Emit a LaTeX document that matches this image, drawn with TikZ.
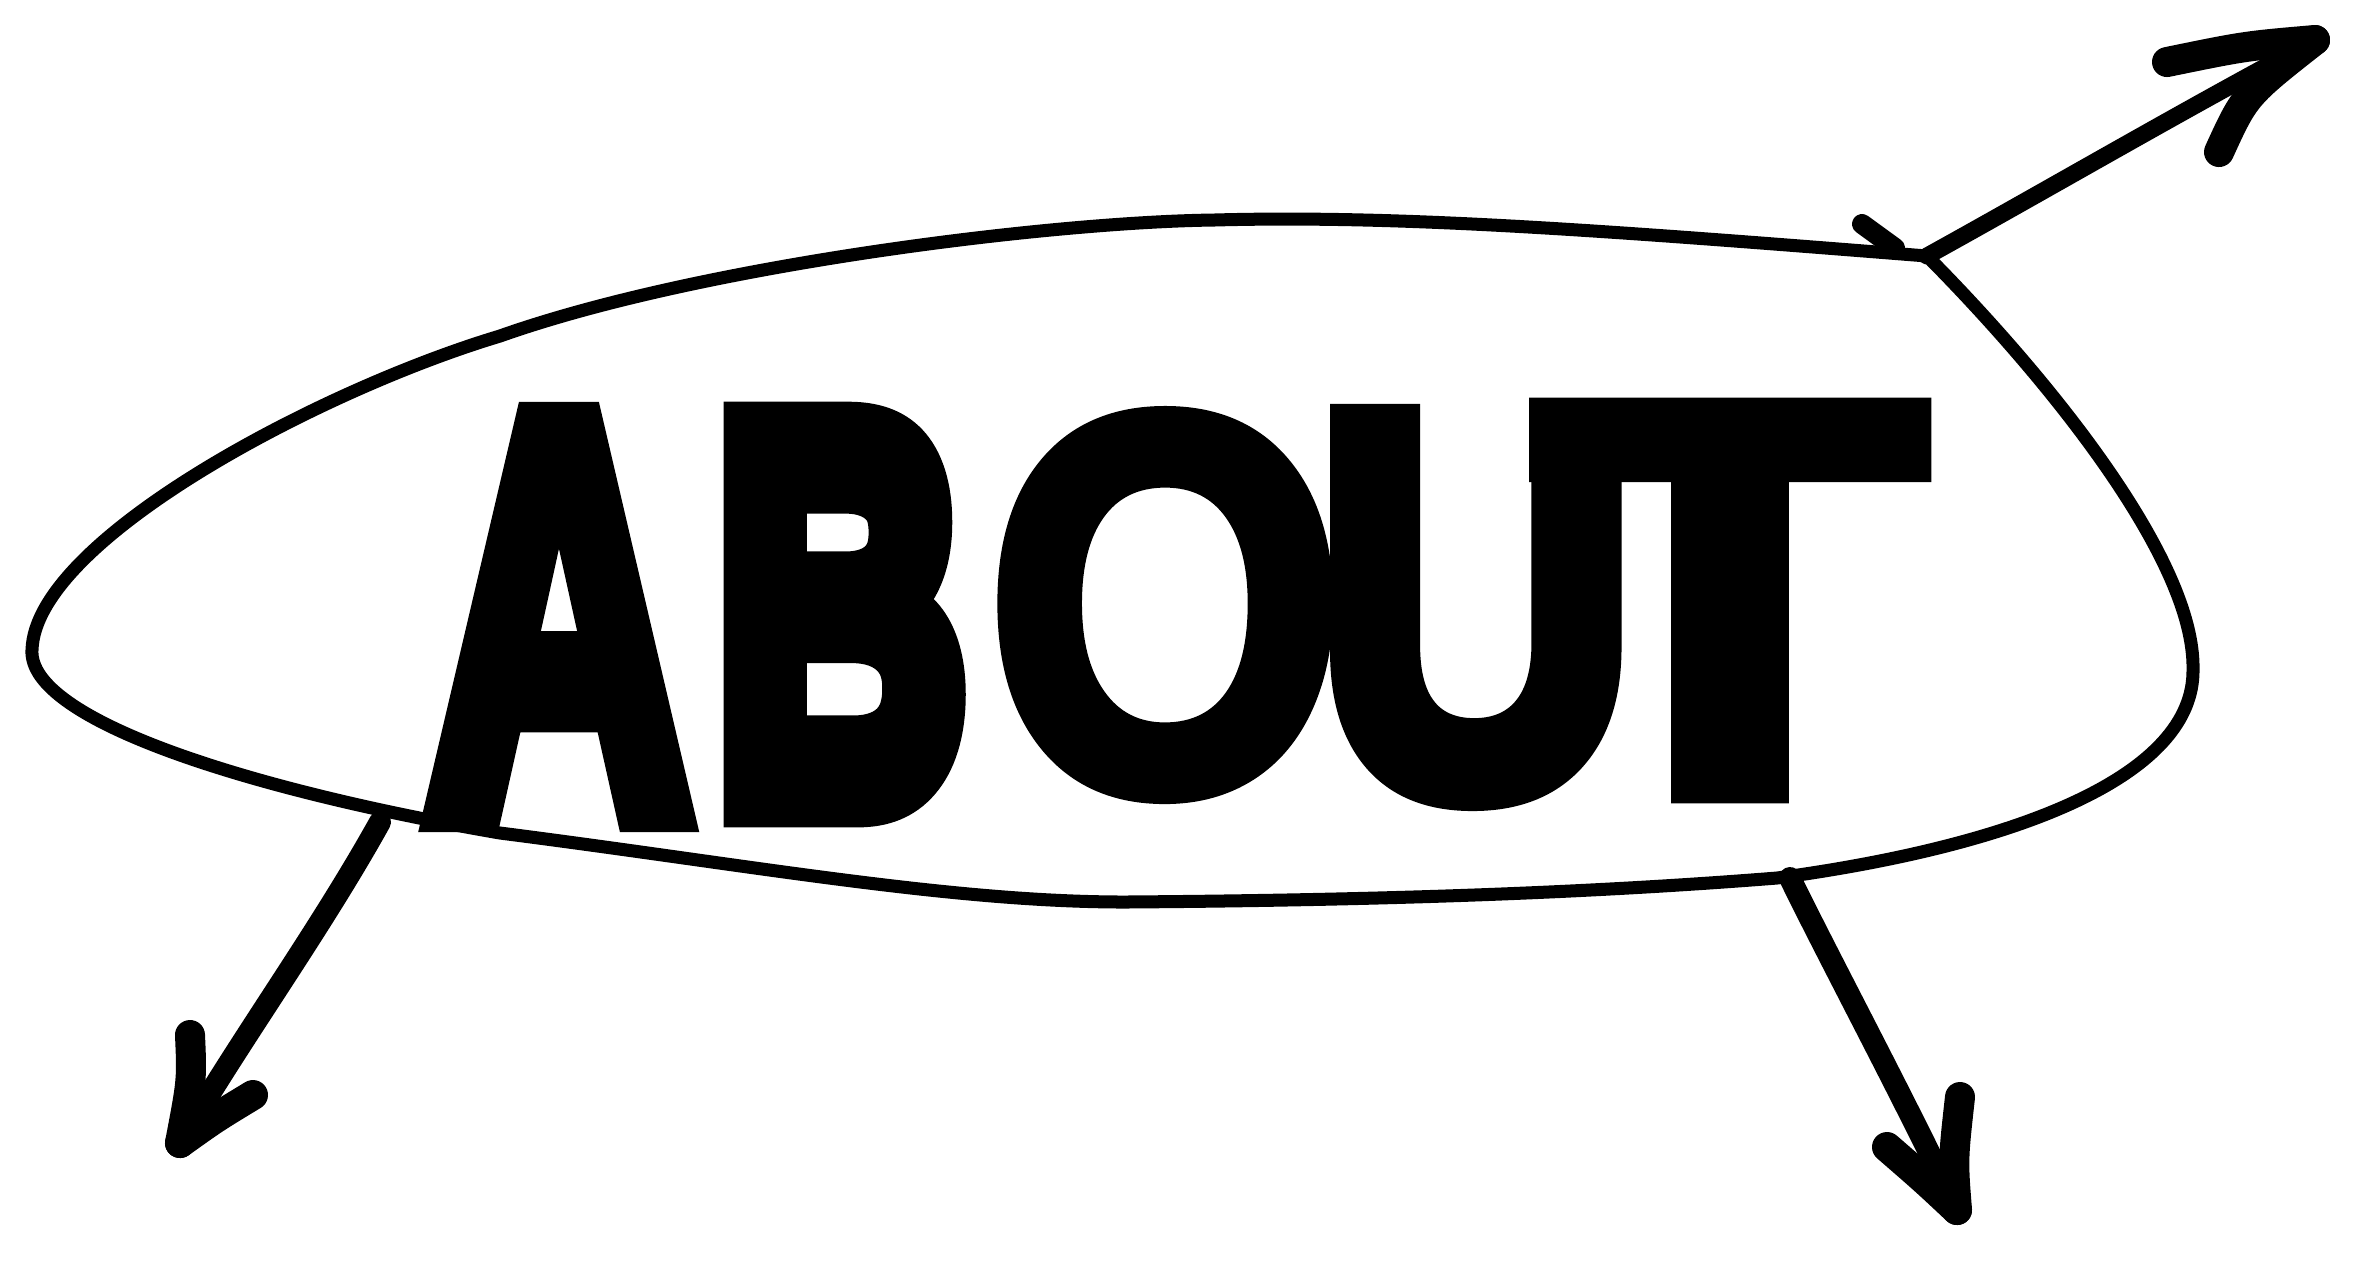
\documentclass[tikz,border=0pt]{standalone}
\usepackage{fontspec}
\usepackage{graphicx}
\newfontfamily\heavyA[FakeBold=7]{Liberation Sans Bold}
\newfontfamily\heavyB[FakeBold=10]{Liberation Sans Bold}
\newfontfamily\heavyO[FakeBold=4]{Liberation Sans Bold}
\newfontfamily\heavyU[FakeBold=6]{Liberation Sans Bold}
\newfontfamily\heavyT[FakeBold=4]{Liberation Sans Bold}
\newcommand{\Glyph}[4]{\resizebox{#1cm}{#2cm}{#3#4}}
\begin{document}
\begin{tikzpicture}[x=0.01cm,y=-0.01cm,
  outline/.style={line width=0.13cm,line join=round,line cap=round},
  shaft/.style={line width=0.22cm,line cap=round},
  thinshaft/.style={line width=0.17cm,line cap=round},
  barb/.style={line width=0.3cm,line cap=round},
  letter/.style={inner sep=0pt,outer sep=0pt}]
\useasboundingbox (0,0) rectangle (2354,1262);
\fill[white] (0,0) rectangle (2354,1262);
% the oval
\coordinate (J) at (1927,256);
\draw[outline] (J) .. controls (1600,230) and (1400,215) .. (1214,220)
  .. controls (1050,222) and (700,265) .. (500,336)
  .. controls (320,390) and (35,540) .. (32,650)
  .. controls (28,720) and (250,790) .. (500,833)
  .. controls (750,865) and (950,902) .. (1125,902)
  .. controls (1400,900) and (1600,892) .. (1777,878)
  .. controls (2020,845) and (2195,775) .. (2193,669)
  .. controls (2195,560) and (2050,380) .. (J) -- cycle;
% letters
\node[letter] (A) at (559,617) {\Glyph{2.63}{3.90}{\heavyA}{A}};
\node[letter] (B) at (841,614.5) {\Glyph{2.46}{3.71}{\heavyB}{B}};
\node[letter] (O) at (1165.5,605) {\Glyph{3.55}{3.71}{\heavyO}{O}};
\node[letter] (U) at (1476,607.5) {\Glyph{3.18}{3.69}{\heavyU}{U}};
\node[letter] (T) at (1730,600.5) {\Glyph{3.90}{3.83}{\heavyT}{T}};
% upper right arrow
\coordinate (URk) at (1862,224);
\coordinate (URs) at (J);
\coordinate (URt) at (2315,40);
\coordinate (URb1) at (2167,62);
\coordinate (URb2) at (2219,152);
\draw[line width=0.2cm,line cap=round] (URk) -- (1895,248);
\draw[thinshaft] (URs) .. controls (2050,188) and (2180,112) .. (URt);
\draw[barb] (URb1) .. controls (2245,46) .. (URt);
\draw[barb] (URb2) .. controls (2245,95) .. (URt);
% lower left arrow
\coordinate (LLs) at (380,822);
\coordinate (LLt) at (180,1143);
\coordinate (LLb1) at (190,1035);
\coordinate (LLb2) at (253,1095);
\draw[shaft] (LLs) .. controls (320,930) and (240,1040) .. (LLt);
\draw[barb] (LLb1) .. controls (192,1080) .. (LLt);
\draw[barb] (LLb2) .. controls (215,1118) .. (LLt);
% lower right arrow
\coordinate (LRs) at (1790,878);
\coordinate (LRt) at (1957,1210);
\coordinate (LRb1) at (1960,1097);
\coordinate (LRb2) at (1887,1147);
\draw[shaft] (LRs) .. controls (1830,960) and (1905,1100) .. (LRt);
\draw[barb] (LRb1) .. controls (1953,1160) .. (LRt);
\draw[barb] (LRb2) .. controls (1925,1180) .. (LRt);
\end{tikzpicture}
\end{document}
